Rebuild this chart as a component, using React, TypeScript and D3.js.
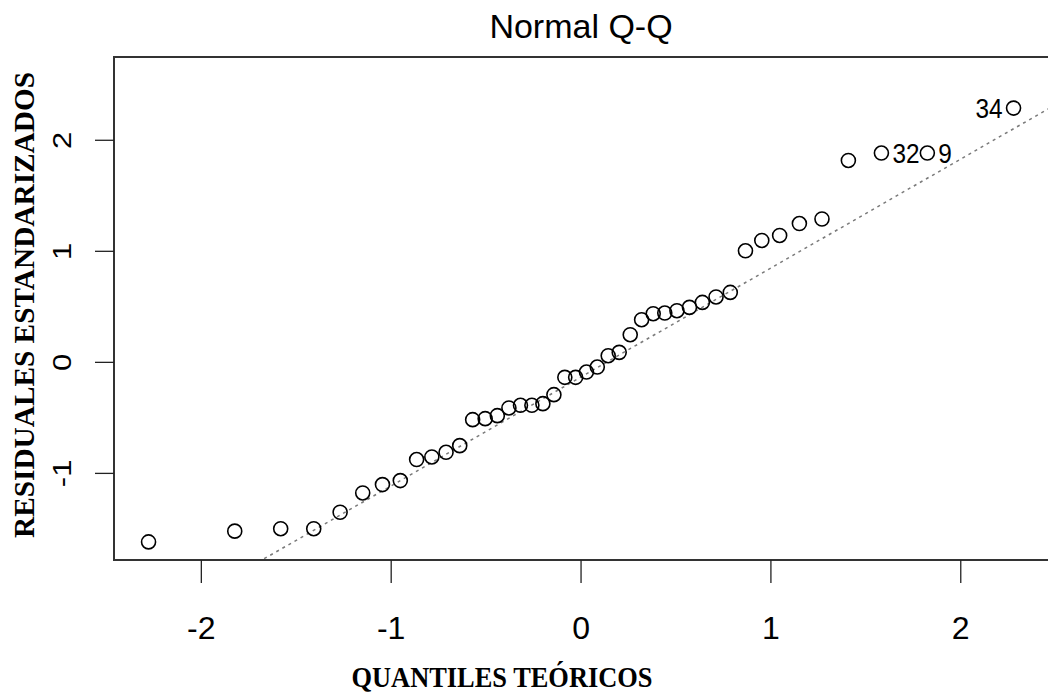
import React from "react";
import * as d3 from "d3";

// Theoretical normal quantiles (x) and sorted standardized residuals (y)
const theoreticalQ = [
  -2.278, -1.824, -1.582, -1.408, -1.269, -1.150, -1.046, -0.952, -0.866, -0.786, -0.711,
  -0.639, -0.571, -0.505, -0.441, -0.380, -0.319, -0.259, -0.201, -0.143, -0.0855, -0.0285,
  0.0285, 0.0855, 0.143, 0.201, 0.259, 0.319, 0.380, 0.441, 0.505, 0.571, 0.639,
  0.711, 0.786, 0.866, 0.952, 1.046, 1.150, 1.269, 1.408, 1.582, 1.824, 2.278,
];
const residuals = [
  -1.617, -1.520, -1.498, -1.498, -1.350, -1.176, -1.101, -1.065, -0.875, -0.852,
  -0.810, -0.750, -0.516, -0.507, -0.480, -0.411, -0.387, -0.387, -0.372, -0.291,
  -0.135, -0.135, -0.087, -0.042, 0.060, 0.090, 0.249, 0.384, 0.438, 0.444,
  0.465, 0.495, 0.540, 0.589, 0.630, 1.005, 1.098, 1.143, 1.250, 1.291,
  1.818, 1.885, 1.885, 2.290,
];
const pointLabels = [
  { index: 41, text: "32", side: "right" },
  { index: 42, text: "9", side: "right" },
  { index: 43, text: "34", side: "left" },
];
const xTicks = [-2, -1, 0, 1, 2];
const yTicks = [-1, 0, 1, 2];
const refLine = { intercept: -0.131, slope: 0.981 };
const xDomain = [-2.46, 2.47];
const yDomain = [-1.78, 2.75];

const title = "Normal Q-Q";
const xTitle = "QUANTILES TEÓRICOS";
const yTitle = "RESIDUALES ESTANDARIZADOS";

export default function App() {
  const W = 1048, H = 695;
  const left = 114, right = 1050, top = 57, bottom = 560;
  const x = d3.scaleLinear().domain(xDomain).range([left, right]);
  const y = d3.scaleLinear().domain(yDomain).range([bottom, top]);

  const lineGen = d3.line<number>().x((d) => x(d)).y((d) => y(refLine.intercept + refLine.slope * d));
  const linePath = lineGen([xDomain[0] - 1, xDomain[1] + 1]) || "";

  const sans = "'Liberation Sans', Arial, sans-serif";
  const serif = "'Liberation Serif', 'Times New Roman', serif";

  return (
    <svg width={W} height={H} style={{ position: "absolute", left: 0, top: 0, background: "#fff" }}>
      <defs>
        <clipPath id="plotclip">
          <rect x={left} y={top} width={right - left} height={bottom - top} />
        </clipPath>
      </defs>
      <rect x={0} y={0} width={W} height={H} fill="#fff" />
      {/* title */}
      <text x={581} y={38} textAnchor="middle" fontFamily={sans} fontSize={34} fill="#000">
        {title}
      </text>
      {/* reference line */}
      <path d={linePath} clipPath="url(#plotclip)" fill="none" stroke="#7a7a7a" strokeWidth={1.5} strokeDasharray="3,4" />
      {/* points */}
      {residuals.map((r, i) => (
        <circle key={i} cx={x(theoreticalQ[i])} cy={y(r)} r={7} fill="none" stroke="#000" strokeWidth={1.6} />
      ))}
      {/* point labels */}
      {pointLabels.map((l) => {
        const px = x(theoreticalQ[l.index]);
        const py = y(residuals[l.index]);
        const tx = l.side === "right" ? px + 11 : px - 11;
        return (
          <text
            key={l.text}
            transform={`translate(${tx},${py + 10}) scale(0.87,1)`}
            textAnchor={l.side === "right" ? "start" : "end"}
            fontFamily={sans}
            fontSize={28}
            fill="#000"
          >
            {l.text}
          </text>
        );
      })}
      {/* box */}
      <rect x={left} y={top} width={right - left} height={bottom - top} fill="none" stroke="#333" strokeWidth={2} />
      {/* x ticks */}
      {xTicks.map((t) => (
        <g key={t}>
          <line x1={x(t)} x2={x(t)} y1={bottom} y2={bottom + 23} stroke="#222" strokeWidth={1.3} />
          <text x={x(t)} y={639} textAnchor="middle" fontFamily={sans} fontSize={32} fill="#000">
            {t}
          </text>
        </g>
      ))}
      {/* y ticks */}
      {yTicks.map((t) => (
        <g key={t}>
          <line x1={left - 19} x2={left} y1={y(t)} y2={y(t)} stroke="#222" strokeWidth={1.3} />
          <text
            transform={`translate(71,${y(t)}) scale(0.85,1) rotate(-90)`}
            textAnchor="middle"
            fontFamily={sans}
            fontSize={31}
            fill="#000"
          >
            {t}
          </text>
        </g>
      ))}
      {/* axis titles */}
      <text
        x={502}
        y={687}
        textAnchor="middle"
        fontFamily={serif}
        fontWeight="bold"
        fontSize={29}
        textLength={301}
        lengthAdjust="spacingAndGlyphs"
        fill="#000"
      >
        {xTitle}
      </text>
      <text
        transform={`translate(34,305) rotate(-90)`}
        textAnchor="middle"
        fontFamily={serif}
        fontWeight="bold"
        fontSize={29}
        textLength={466}
        lengthAdjust="spacingAndGlyphs"
        fill="#000"
      >
        {yTitle}
      </text>
    </svg>
  );
}
